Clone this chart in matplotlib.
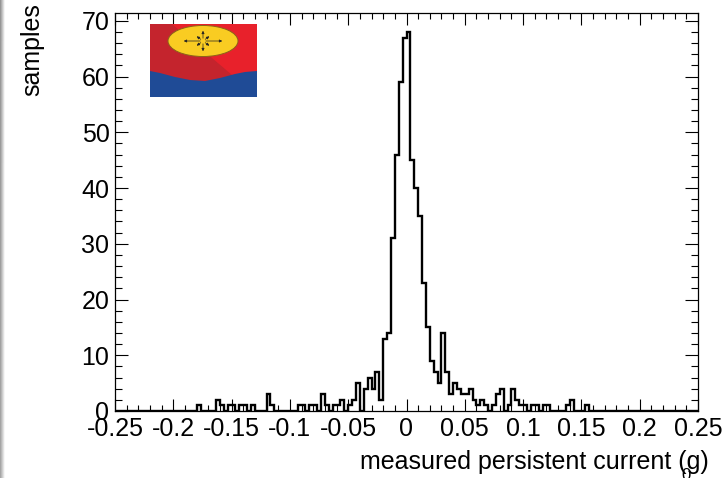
import numpy as np
import matplotlib.pyplot as plt
from matplotlib.patches import Polygon, Ellipse, Rectangle
from matplotlib.ticker import MultipleLocator

plt.rcParams['font.family'] = ['Liberation Sans', 'DejaVu Sans']

# histogram range and binning (150 bins over [-0.25, 0.25])
x_min, x_max, n_bins = -0.25, 0.25, 150

# counts per bin, left to right
counts = [
    0, 0, 0, 0, 0, 0, 0, 0, 0, 0,
    0, 0, 0, 0, 0, 0, 0, 0, 0, 0,
    0, 1, 0, 0, 0, 0, 2, 1, 0, 1,
    1, 0, 1, 1, 0, 1, 0, 0, 0, 3,
    1, 0, 0, 0, 0, 0, 0, 1, 1, 0,
    1, 1, 0, 3, 1, 0, 1, 1, 2, 0,
    1, 2, 5, 0, 4, 6, 4, 7, 2, 13,
    14, 31, 46, 59, 67, 68, 45, 40, 35, 23,
    15, 9, 7, 5, 14, 7, 3, 5, 4, 3,
    3, 4, 2, 1, 2, 1, 0, 1, 3, 4,
    0, 1, 4, 2, 1, 1, 0, 1, 1, 0,
    1, 1, 0, 0, 0, 0, 1, 2, 0, 0,
    0, 1, 0, 0, 0, 0, 0, 0, 0, 0,
    0, 0, 0, 0, 0, 0, 0, 0, 0, 0,
    0, 0, 0, 0, 0, 0, 0, 0, 0, 0,
]
edges = np.linspace(x_min, x_max, n_bins + 1)

x_ticks = [-0.25, -0.2, -0.15, -0.1, -0.05, 0, 0.05, 0.1, 0.15, 0.2, 0.25]
x_tick_labels = ['-0.25', '-0.2', '-0.15', '-0.1', '-0.05', '0',
                 '0.05', '0.1', '0.15', '0.2', '0.25']
y_ticks = [0, 10, 20, 30, 40, 50, 60, 70]

W, H = 725, 478
fig = plt.figure(figsize=(W / 100, H / 100), dpi=100, facecolor='white')

# frame in pixel units
left, right, top, bottom = 115, 698, 13, 411
ax = fig.add_axes([left / W, 1 - bottom / H, (right - left) / W, (bottom - top) / H])

ax.stairs(counts, edges, color='black', linewidth=1.7, baseline=0)

ax.set_xlim(x_min, x_max)
ax.set_ylim(0, 1.05 * max(counts))

ax.set_xticks(x_ticks)
ax.set_xticklabels(x_tick_labels)
ax.set_yticks(y_ticks)
ax.xaxis.set_minor_locator(MultipleLocator(0.01))
ax.yaxis.set_minor_locator(MultipleLocator(2))

ax.tick_params(which='both', direction='in', top=True, right=True,
               labelsize=18, width=0.8, colors='black')
ax.tick_params(axis='x', which='major', length=8.5, pad=4)
ax.tick_params(axis='x', which='minor', length=4.3)
ax.tick_params(axis='y', which='major', length=9.5, pad=4)
ax.tick_params(axis='y', which='minor', length=5)
for sp in ax.spines.values():
    sp.set_linewidth(0.9)

# axis titles, placed ROOT-style at the far ends; the subscript sits under the g
fig.text(709 / W, 1 - 462 / H, 'measured persistent current (g)',
         ha='right', va='center', fontsize=18)
fig.text(686 / W, 1 - 475 / H, '0', ha='center', va='center', fontsize=12)
fig.text(32 / W, 1 - 50 / H, 'samples', rotation=90,
         ha='center', va='center', fontsize=18)

# logo in the upper left corner of the frame
lx0, ly0, lw, lh = 150, 24, 107, 73
lg = fig.add_axes([lx0 / W, 1 - (ly0 + lh) / H, lw / W, lh / H])
lg.set_xlim(0, lw)
lg.set_ylim(lh, 0)
lg.axis('off')
lg.add_patch(Rectangle((0, 0), lw, lh, color='#e8212b', lw=0))
lg.add_patch(Polygon([(0, 0), (22, 0), (95, 62), (95, lh), (0, lh)],
                     closed=True, color='#c4242d', lw=0))
wave_x = [0, 10, 25, 40, 55, 70, 85, 95, 107]
wave_y = [47, 49, 53, 56, 57, 54, 50, 48, 47]
lg.add_patch(Polygon(list(zip(wave_x, wave_y)) + [(lw, lh), (0, lh)],
                     closed=True, color='#1f4b96', lw=0))
lg.add_patch(Ellipse((53, 17), 70, 31, facecolor='#f9cc22',
                     edgecolor='#8a6418', lw=0.7))
cx, cy = 53, 17
for ang in np.arange(0, 360, 45):
    rx, ry = (22, 13) if ang % 90 == 0 else (12, 9)
    dx, dy = rx * np.cos(np.radians(ang)), -ry * np.sin(np.radians(ang))
    lg.annotate('', xy=(cx + dx, cy + dy), xytext=(cx, cy),
                arrowprops=dict(arrowstyle='-|>', color='#222222', lw=0.5,
                                mutation_scale=4))

# grey shading strip along the left edge
strip = fig.add_axes([0, 0, 5 / W, 1])
strip.axis('off')
grad = np.tile(np.linspace(0.55, 1.0, 20), (50, 1))
grad = grad * np.linspace(1.0, 0.85, 50)[:, None] + (1 - np.linspace(1.0, 0.85, 50)[:, None])
strip.imshow(grad, cmap='gray', vmin=0, vmax=1, aspect='auto', extent=[0, 1, 0, 1])

fig.savefig('out.png', dpi=100, facecolor='white')
